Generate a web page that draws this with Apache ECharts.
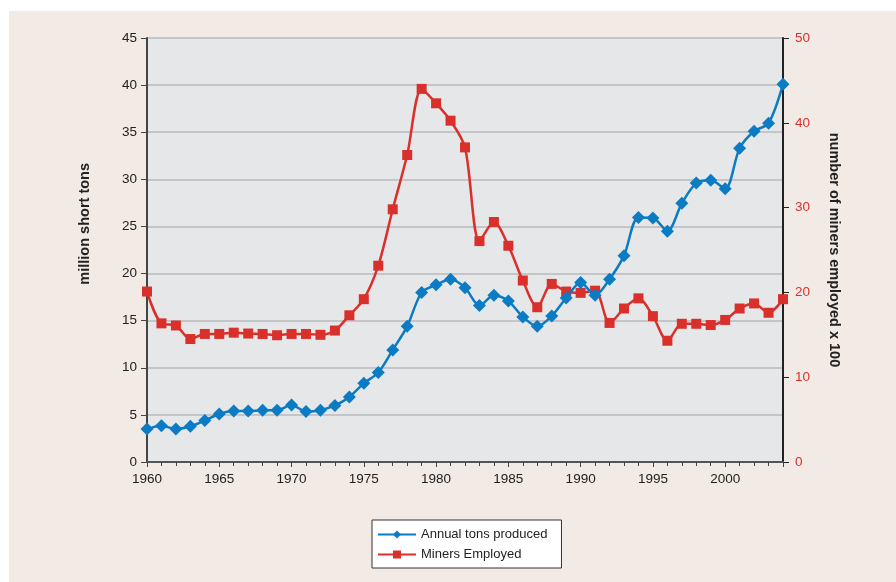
<!DOCTYPE html>
<html lang="en">
	<head>
		<meta charset="UTF-8" />
		<title>Coal production and miners</title>
		<style>
			* {
				box-sizing: border-box;
				margin: 0;
				padding: 0;
			}

			body {
				width: 896px;
				height: 582px;
				background-color: #ffffff;
				position: relative;
				overflow: hidden;
			}

			.container {
				position: absolute;
				left: 9px;
				top: 11px;
				width: 887px;
				height: 571px;
				background-color: #f2eae4;
			}
		</style>
	</head>
	<body>
		<div class="container" id="chart"></div>
		<script src="https://cdn.jsdelivr.net/npm/echarts@6/dist/echarts.min.js"></script>
		<script>
			// years on the x axis
			var years = [
				1960, 1961, 1962, 1963, 1964, 1965, 1966, 1967, 1968, 1969,
				1970, 1971, 1972, 1973, 1974, 1975, 1976, 1977, 1978, 1979,
				1980, 1981, 1982, 1983, 1984, 1985, 1986, 1987, 1988, 1989,
				1990, 1991, 1992, 1993, 1994, 1995, 1996, 1997, 1998, 1999,
				2000, 2001, 2002, 2003, 2004
			]
			// million short tons (left axis)
			var tons = [
				3.5, 3.85, 3.5, 3.8, 4.4, 5.1, 5.4, 5.4, 5.5, 5.5,
				6.05, 5.35, 5.5, 6.0, 6.9, 8.35, 9.5, 11.9, 14.4, 18.0,
				18.8, 19.4, 18.5, 16.6, 17.7, 17.1, 15.4, 14.4, 15.5, 17.4,
				19.05, 17.7, 19.4, 21.9, 25.95, 25.9, 24.5, 27.45, 29.6, 29.9,
				29.0, 33.3, 35.1, 35.95, 40.1
			]
			// miners employed x 100 (right axis)
			var miners = [
				20.1, 16.35, 16.1, 14.5, 15.1, 15.1, 15.25, 15.15, 15.1, 14.95,
				15.1, 15.1, 15.0, 15.5, 17.3, 19.2, 23.15, 29.8, 36.2, 44.0,
				42.3, 40.25, 37.1, 26.05, 28.3, 25.5, 21.4, 18.25, 21.0, 20.1,
				19.95, 20.2, 16.4, 18.1, 19.3, 17.2, 14.3, 16.3, 16.3, 16.15,
				16.75, 18.1, 18.7, 17.6, 19.2
			]
			var leftTicks = [0, 45, 5]
			var rightTicks = [0, 50, 10]

			var blue = '#0b7bc4'
			var red = '#d9302c'
			var font = '"Liberation Sans", Arial, sans-serif'

			var chart = echarts.init(document.getElementById('chart'))
			chart.setOption({
				animation: false,
				textStyle: { fontFamily: font },
				grid: {
					left: 138,
					right: 113,
					top: 27,
					bottom: 120,
					show: true,
					backgroundColor: '#e6e7e9',
					borderWidth: 0
				},
				legend: {
					orient: 'vertical',
					left: 363,
					top: 509,
					backgroundColor: '#ffffff',
					borderColor: '#333333',
					borderWidth: 1,
					borderRadius: 0,
					padding: [8, 14, 7, 5],
					itemGap: 7,
					itemWidth: 38,
					itemHeight: 10,
					textStyle: { fontFamily: font, fontSize: 13, color: '#222' },
					data: ['Annual tons produced', 'Miners Employed']
				},
				graphic: [{
					type: 'text',
					left: 68,
					top: 152,
					rotation: Math.PI / 2,
					style: {
						text: 'million short tons',
						font: 'bold 14.5px ' + font,
						fill: '#222'
					}
				}],
				xAxis: {
					type: 'value',
					min: 1960,
					max: 2004,
					interval: 5,
					axisLine: { lineStyle: { color: '#555', width: 2 } },
					axisTick: { show: true, inside: false, length: 5, lineStyle: { color: '#444' } },
					minorTick: { show: true, splitNumber: 5, length: 4, lineStyle: { color: '#444' } },
					splitLine: { show: false },
					axisLabel: {
						color: '#222',
						fontSize: 13.5,
						margin: 10,
						formatter: function (v) { return v % 5 === 0 ? String(v) : '' }
					}
				},
				yAxis: [{
					type: 'value',
					min: leftTicks[0],
					max: leftTicks[1],
					interval: leftTicks[2],
					axisLine: { show: true, lineStyle: { color: '#444', width: 2 } },
					axisTick: { show: true, inside: false, length: 6, lineStyle: { color: '#444' } },
					splitLine: { show: true, lineStyle: { color: '#b9babc', width: 1.5 } },
					axisLabel: { color: '#222', fontSize: 13.5, margin: 10 }
				}, {
					type: 'value',
					min: rightTicks[0],
					max: rightTicks[1],
					interval: rightTicks[2],
					position: 'right',
					name: 'number of miners employed x 100',
					nameLocation: 'middle',
					nameRotate: -90,
					nameGap: 43,
					nameTextStyle: { fontFamily: font, fontSize: 14.5, fontWeight: 'bold', color: '#222' },
					axisLine: { show: true, lineStyle: { color: '#222', width: 2 } },
					axisTick: { show: true, inside: false, length: 6, lineStyle: { color: '#222' } },
					splitLine: { show: false },
					axisLabel: { color: red, fontSize: 13.5, margin: 12 }
				}],
				series: [{
					name: 'Annual tons produced',
					type: 'line',
					yAxisIndex: 0,
					smooth: 0.3,
					symbol: 'diamond',
					symbolSize: 13,
					itemStyle: { color: blue },
					lineStyle: { color: blue, width: 2.5 },
					data: years.map(function (y, i) { return [y, tons[i]] }),
					z: 3
				}, {
					name: 'Miners Employed',
					type: 'line',
					yAxisIndex: 1,
					smooth: 0.3,
					symbol: 'rect',
					symbolSize: 10,
					itemStyle: { color: red },
					lineStyle: { color: red, width: 2.5 },
					data: years.map(function (y, i) { return [y, miners[i]] }),
					z: 2
				}]
			})
		</script>
	</body>
</html>
